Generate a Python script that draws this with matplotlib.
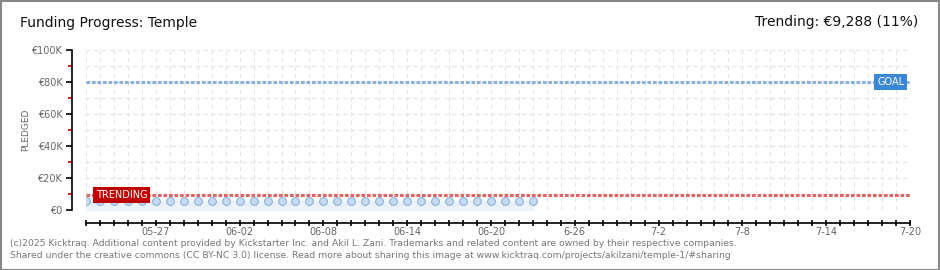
import numpy as np
import pandas as pd
import matplotlib
matplotlib.use("Agg")
import matplotlib.pyplot as plt
import matplotlib.dates as mdates
from matplotlib.patches import Rectangle

# ---------------- DATA ----------------
start_date = "2025-05-22"
end_date = "2025-07-20"
pledged = [5800, 5800, 5800, 5800, 5800, 5800, 5800, 5800, 5800, 5800, 5800,
           5800, 5800, 5800, 5800, 5800, 5800, 5800, 5800, 5800, 5800, 5800,
           5800, 5800, 5800, 5800, 5800, 5800, 5800, 5800, 5800, 5800, 5800]
goal = 80000
trending = 9288
tick_dates = ["2025-05-27", "2025-06-02", "2025-06-08", "2025-06-14", "2025-06-20",
              "2025-06-26", "2025-07-02", "2025-07-08", "2025-07-14", "2025-07-20"]
tick_labels = ["05-27", "06-02", "06-08", "06-14", "06-20",
               "6-26", "7-2", "7-8", "7-14", "7-20"]
y_ticks = [0, 20000, 40000, 60000, 80000, 100000]
y_labels = ["€0", "€20K", "€40K", "€60K", "€80K", "€100K"]

dates = pd.date_range(start_date, periods=len(pledged), freq="D")
x0, x1 = pd.Timestamp(start_date), pd.Timestamp(end_date)

# ---------------- FIGURE ----------------
W, H = 940, 270
fig = plt.figure(figsize=(W / 100, H / 100), dpi=100)
fig.patch.set_facecolor("white")
fig.add_artist(Rectangle((0.5 / W, 0.5 / H), 1 - 1.5 / W, 1 - 1.5 / H,
                         transform=fig.transFigure, fill=False,
                         edgecolor="#888888", lw=1.5))

ax = fig.add_axes([86 / W, (H - 210) / H, 824 / W, 160 / H])
ax.set_xlim(x0, x1)
ax.set_ylim(0, 100000)

# grid
ax.xaxis.set_minor_locator(mdates.DayLocator())
ax.yaxis.set_minor_locator(matplotlib.ticker.MultipleLocator(10000))
ax.grid(True, which="both", color="#e4e4e4", ls=(0, (4, 3)), lw=0.8)
ax.set_axisbelow(True)

# area + points
ax.fill_between(dates, 0, pledged, color="#eaf3fc", zorder=2)
ax.plot(dates, pledged, ls="none", marker="o", ms=5.6, mfc="#c6dcf4",
        mec="#8fb0d8", mew=0.8, zorder=4)

# goal and trending lines
ax.plot([x0, x1], [goal, goal], color="#8cb1dc", lw=2.2, ls=(0, (1.2, 0.6)), zorder=3)
ax.plot([x0, x1], [trending, trending], color="#e06464", lw=2.2, ls=(0, (1.2, 0.6)), zorder=3)

ax.text(x1 - pd.Timedelta(days=0.4), goal, "GOAL", color="white", fontsize=7,
        ha="right", va="center", zorder=6,
        bbox=dict(boxstyle="square,pad=0.3", fc="#3a87d6", ec="none"))
ax.text(x0 + pd.Timedelta(days=0.7), trending, "TRENDING", color="white", fontsize=7,
        ha="left", va="center", zorder=6,
        bbox=dict(boxstyle="square,pad=0.3", fc="#c00000", ec="none"))

# spines / ticks
for s in ["top", "right"]:
    ax.spines[s].set_visible(False)
ax.spines["left"].set_position(("outward", 10))
ax.spines["bottom"].set_position(("outward", 9))
ax.spines["left"].set_linewidth(1.2)
ax.spines["bottom"].set_linewidth(1.2)

ax.set_yticks(y_ticks)
ax.set_yticklabels(y_labels)
ax.tick_params(axis="y", which="major", length=4, width=1.2, color="black",
               labelsize=7, labelcolor="#666666", pad=3)
ax.tick_params(axis="y", which="minor", length=3, width=1.2, color="#dd0000")

ax.set_xticks(pd.to_datetime(tick_dates))
ax.set_xticklabels(tick_labels)
ax.tick_params(axis="x", which="both", direction="inout", length=5, width=1.2,
               color="black", labelsize=7, labelcolor="#666666", pad=1)

ax.set_ylabel("PLEDGED", color="#666666", fontsize=6.5, labelpad=1)

# ---------------- TEXT ----------------
fig.text(20 / W, 1 - 23 / H, "Funding Progress: Temple", fontsize=10,
         ha="left", va="center", color="#111111")
fig.text(918 / W, 1 - 22 / H, "Trending: €9,288 (11%)", fontsize=10,
         ha="right", va="center", color="#111111")
fig.text(10 / W, 1 - 243 / H,
         "(c)2025 Kicktraq. Additional content provided by Kickstarter Inc. and Akil L. Zani. "
         "Trademarks and related content are owned by their respective companies.",
         fontsize=6.65, color="#777777", ha="left", va="center")
fig.text(10 / W, 1 - 256 / H,
         "Shared under the creative commons (CC BY-NC 3.0) license. Read more about sharing "
         "this image at www.kicktraq.com/projects/akilzani/temple-1/#sharing",
         fontsize=6.65, color="#777777", ha="left", va="center")

fig.savefig("out.png", dpi=100, facecolor="white")
